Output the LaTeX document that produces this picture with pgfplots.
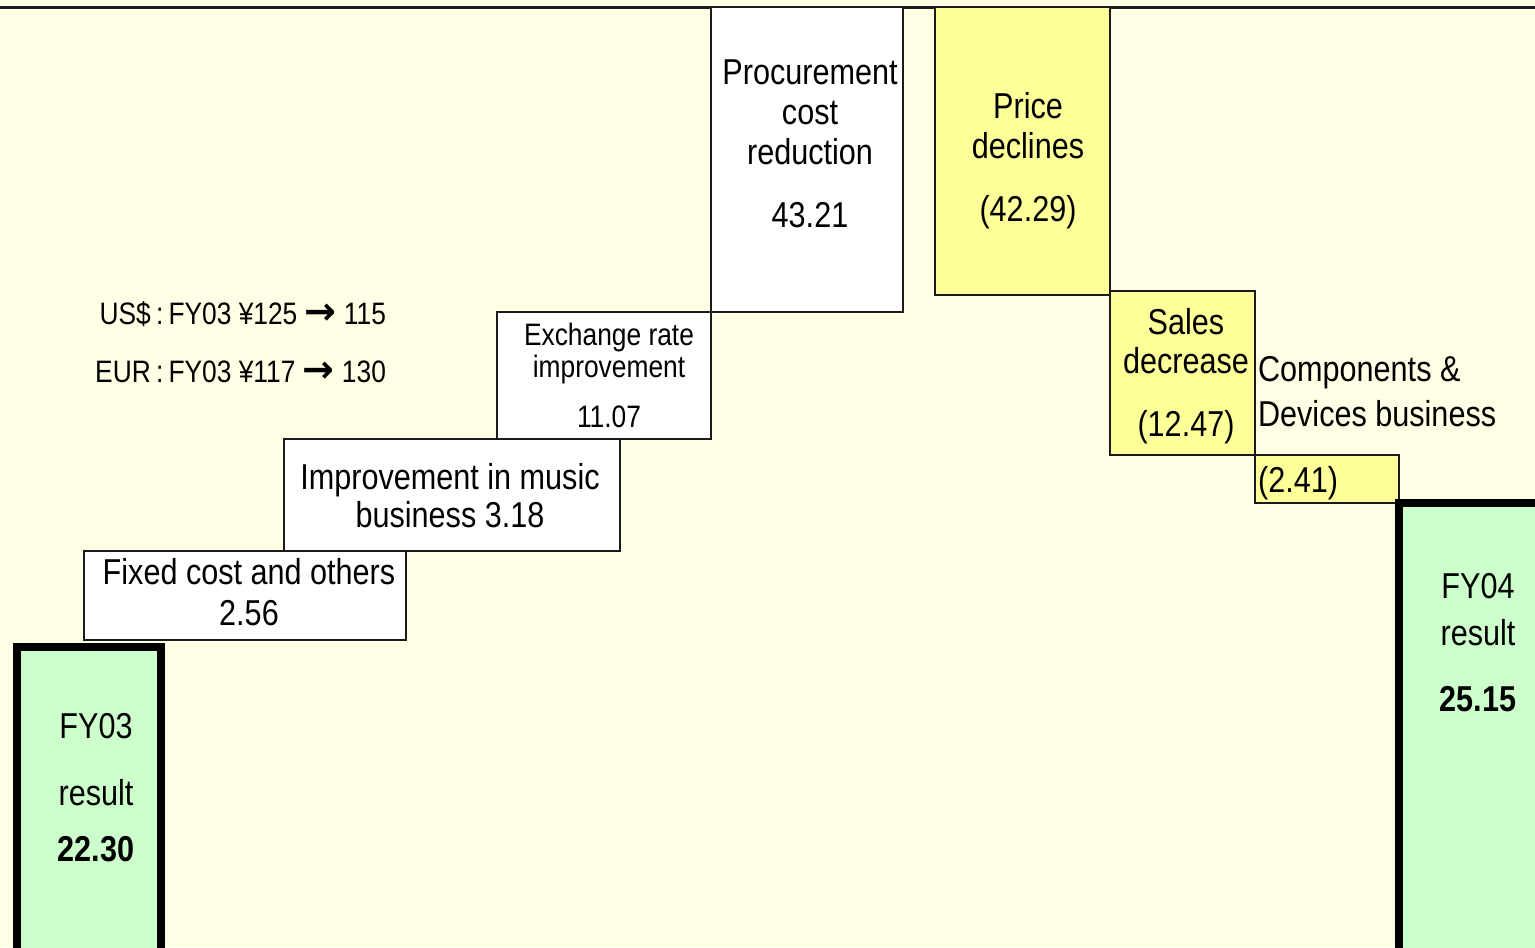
\documentclass[border=0pt]{standalone}
\usepackage{pgfplots}
\pgfplotsset{compat=1.18}
\usepackage{fontspec}
\setmainfont{Liberation Sans}[FakeStretch=0.85]
\newfontfamily\symfont{DejaVu Sans}
\definecolor{bgcol}{HTML}{FFFFE6}
\definecolor{ylw}{HTML}{FFFF99}
\definecolor{grn}{HTML}{CCFFCC}
\definecolor{edge}{HTML}{1A1A1A}
\newcommand{\arr}{{\symfont\bfseries\fontsize{19}{19}\selectfont →}}
\begin{document}
\begin{tikzpicture}
\begin{axis}[
  width=767.5pt, height=473.5pt, scale only axis,
  xmin=0, xmax=1535, ymin=0, ymax=947,
  axis lines=none, ticks=none,
  clip=true,
  every node/.append style={inner sep=0pt, text=black},
]
\coordinate (sw) at (rel axis cs:0,0);
\coordinate (ne) at (rel axis cs:1,1);
% background
\addplot[fill=bgcol, draw=none] coordinates {(0,0)(1535,0)(1535,947)(0,947)(0,0)};
% top rule
\addplot[draw=edge, line width=1.4pt] coordinates {(0,939.5)(1535,939.5)};
% increases (white)
\addplot[fill=white, draw=edge, line width=0.8pt, line cap=rect] coordinates {(84,307)(406,307)(406,396)(84,396)(84,307)};
\addplot[fill=white, draw=edge, line width=0.8pt, line cap=rect] coordinates {(284,396)(620,396)(620,508)(284,508)(284,396)};
\addplot[fill=white, draw=edge, line width=0.8pt, line cap=rect] coordinates {(497,508)(711,508)(711,635)(497,635)(497,508)};
\addplot[fill=white, draw=edge, line width=0.8pt, line cap=rect] coordinates {(711,635)(903,635)(903,939.5)(711,939.5)(711,635)};
% decreases (yellow)
\addplot[fill=ylw, draw=edge, line width=0.8pt, line cap=rect] coordinates {(935,652)(1110,652)(1110,939.5)(935,939.5)(935,652)};
\addplot[fill=ylw, draw=edge, line width=0.8pt, line cap=rect] coordinates {(1110,492)(1255,492)(1255,656)(1110,656)(1110,492)};
\addplot[fill=ylw, draw=edge, line width=0.8pt, line cap=rect] coordinates {(1255,444)(1399,444)(1399,492)(1255,492)(1255,444)};
% results (green)
\addplot[fill=grn, draw=black, line width=4pt, line cap=rect] coordinates {(17,-40)(17,300)(161,300)(161,-40)(17,-40)};
\addplot[fill=grn, draw=black, line width=4pt, line cap=rect] coordinates {(1399,-40)(1399,444)(1580,444)(1580,-40)(1399,-40)};
% labels
\node[anchor=base, font=\fontsize{18}{20}\selectfont] at (axis cs:810,862) {Procurement};
\node[anchor=base, font=\fontsize{18}{20}\selectfont] at (axis cs:810,822) {cost};
\node[anchor=base, font=\fontsize{18}{20}\selectfont] at (axis cs:810,782) {reduction};
\node[anchor=base, font=\fontsize{18}{20}\selectfont] at (axis cs:810,719) {43.21};
\node[anchor=base, font=\fontsize{18}{20}\selectfont] at (axis cs:1028,828) {Price};
\node[anchor=base, font=\fontsize{18}{20}\selectfont] at (axis cs:1028,788) {declines};
\node[anchor=base, font=\fontsize{18}{20}\selectfont] at (axis cs:1028,725) {(42.29)};
\node[anchor=base, font=\fontsize{18}{20}\selectfont] at (axis cs:1186,612) {Sales};
\node[anchor=base, font=\fontsize{18}{20}\selectfont] at (axis cs:1186,573) {decrease};
\node[anchor=base, font=\fontsize{18}{20}\selectfont] at (axis cs:1186,510) {(12.47)};
\node[anchor=base west, font=\fontsize{18}{20}\selectfont] at (axis cs:1251,565) {Components \&};
\node[anchor=base west, font=\fontsize{18}{20}\selectfont] at (axis cs:1251,520) {Devices business};
\node[anchor=base west, font=\fontsize{18}{20}\selectfont] at (axis cs:1251,454) {(2.41)};
\node[anchor=base, font=\fontsize{15.5}{17}\selectfont] at (axis cs:609,601) {Exchange rate};
\node[anchor=base, font=\fontsize{15.5}{17}\selectfont] at (axis cs:609,569) {improvement};
\node[anchor=base, font=\fontsize{15.5}{17}\selectfont] at (axis cs:609,519) {11.07};
\node[anchor=base, font=\fontsize{18}{20}\selectfont] at (axis cs:450,457) {Improvement in music};
\node[anchor=base, font=\fontsize{18}{20}\selectfont] at (axis cs:450,419) {business 3.18};
\node[anchor=base, font=\fontsize{18}{20}\selectfont] at (axis cs:249,362) {Fixed cost and others};
\node[anchor=base, font=\fontsize{18}{20}\selectfont] at (axis cs:249,321) {2.56};
\node[anchor=base east, font=\fontsize{15.5}{17}\selectfont] at (axis cs:393,622) {US\$\,:\,FY03 ¥125 \arr{} 115};
\node[anchor=base east, font=\fontsize{15.5}{17}\selectfont] at (axis cs:393,564) {EUR\,:\,FY03 ¥117 \arr{} 130};
\node[anchor=base, font=\fontsize{18}{20}\selectfont] at (axis cs:96,208) {FY03};
\node[anchor=base, font=\fontsize{18}{20}\selectfont] at (axis cs:96,141) {result};
\node[anchor=base, font=\fontsize{18}{20}\bfseries] at (axis cs:96,85) {22.30};
\node[anchor=base, font=\fontsize{18}{20}\selectfont] at (axis cs:1478,348) {FY04};
\node[anchor=base, font=\fontsize{18}{20}\selectfont] at (axis cs:1478,301) {result};
\node[anchor=base, font=\fontsize{18}{20}\bfseries] at (axis cs:1478,235) {25.15};
\end{axis}
\pgfresetboundingbox
\path[use as bounding box] (sw) rectangle (ne);
\end{tikzpicture}
\end{document}
